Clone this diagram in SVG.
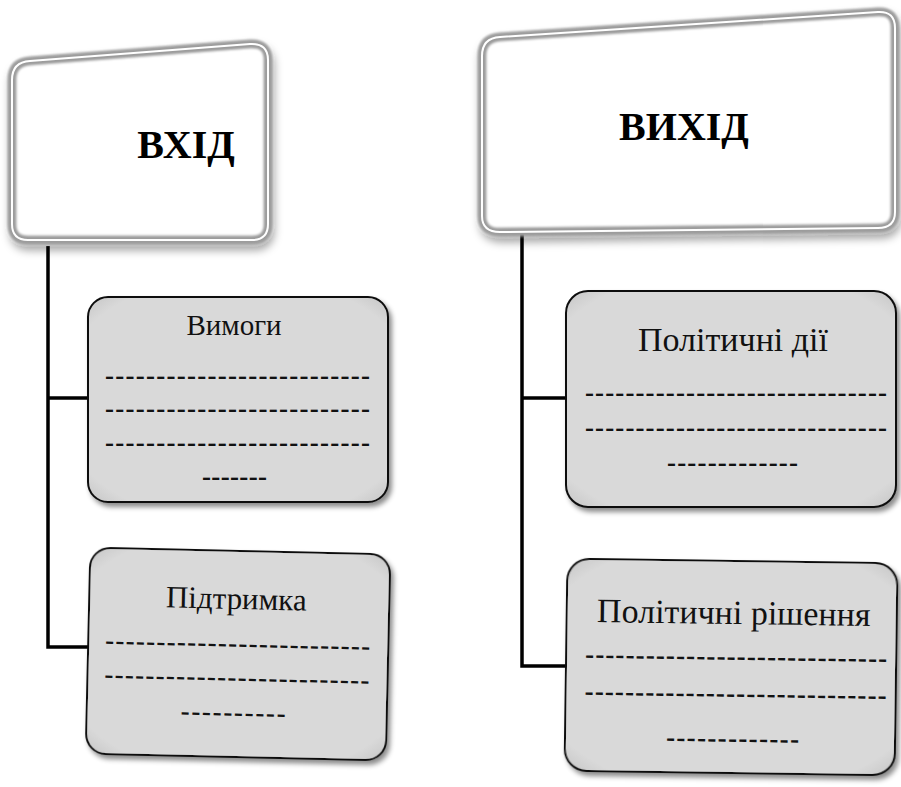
<svg xmlns="http://www.w3.org/2000/svg" width="901" height="787" viewBox="0 0 901 787">
<style>
.frame{fill:#ffffff;stroke:#9c9c9c;stroke-width:9;filter:url(#soft)}
.gap{fill:none;stroke:#ffffff;stroke-width:2}
.card{fill:url(#cardfill);stroke:#111111;stroke-width:2;filter:url(#shadow)}
.title{font-family:"Liberation Serif","Times New Roman",serif;font-weight:bold;font-size:40px;fill:#000;text-anchor:middle}
.label{font-family:"Liberation Serif","Times New Roman",serif;font-size:29px;fill:#111;text-anchor:middle}
.label2{font-family:"Liberation Serif","Times New Roman",serif;font-size:34px;fill:#111;text-anchor:middle}
.dash{font-family:"Liberation Serif","Times New Roman",serif;font-weight:bold;font-size:27px;fill:#111}
.conn{fill:none;stroke:#000;stroke-width:3.5}
</style>
<defs>
<filter id="soft" x="-10%" y="-10%" width="120%" height="130%">
<feGaussianBlur in="SourceAlpha" stdDeviation="4"/>
<feOffset dx="2" dy="6" result="b"/>
<feFlood flood-color="#000" flood-opacity="0.35"/>
<feComposite in2="b" operator="in" result="s"/>
<feGaussianBlur in="SourceGraphic" stdDeviation="0.8" result="g"/>
<feMerge><feMergeNode in="s"/><feMergeNode in="g"/></feMerge>
</filter>
<filter id="shadow" x="-10%" y="-10%" width="125%" height="125%">
<feGaussianBlur in="SourceAlpha" stdDeviation="2.5"/>
<feOffset dx="3" dy="4" result="b"/>
<feFlood flood-color="#000" flood-opacity="0.45"/>
<feComposite in2="b" operator="in" result="s"/>
<feMerge><feMergeNode in="s"/><feMergeNode in="SourceGraphic"/></feMerge>
</filter>
<radialGradient id="cardfill" cx="50%" cy="50%" r="72%">
<stop offset="0.85" stop-color="#d9d9d9"/>
<stop offset="1" stop-color="#c2c2c2"/>
</radialGradient>
</defs>

<g id="connectors">
<path class="conn" d="M48,246 V647 H88"/>
<path class="conn" d="M48,398 H88"/>
<path class="conn" d="M522,230 V666 H566"/>
<path class="conn" d="M522,398 H566"/>
</g>

<g id="vkhid">
<path class="frame" d="M12,80 Q12,62 30,61 L250,44 Q268,43 268,60 L268,224 Q268,240 252,240 L28,240 Q12,240 12,224 Z"/>
<path class="gap" d="M12,80 Q12,62 30,61 L250,44 Q268,43 268,60 L268,224 Q268,240 252,240 L28,240 Q12,240 12,224 Z"/>
<text class="title" x="186" y="158">ВХІД</text>
</g>

<g id="vykhid">
<path class="frame" d="M482,56 Q482,38 500,37 L878,12 Q895,11 895,28 L895,212 Q895,228 878,228 L500,232 Q482,232 482,216 Z"/>
<path class="gap" d="M482,56 Q482,38 500,37 L878,12 Q895,11 895,28 L895,212 Q895,228 878,228 L500,232 Q482,232 482,216 Z"/>
<text class="title" x="684" y="140">ВИХІД</text>
</g>

<g id="vymohy">
<rect class="card" x="88" y="297" width="300" height="205" rx="20"/>
<text class="label" x="234" y="335">Вимоги</text>
<text class="dash" x="105" y="384" textLength="265" lengthAdjust="spacing">--------------------------</text>
<text class="dash" x="105" y="417" textLength="265" lengthAdjust="spacing">--------------------------</text>
<text class="dash" x="105" y="451" textLength="265" lengthAdjust="spacing">--------------------------</text>
<text class="dash" x="202" y="485" textLength="65" lengthAdjust="spacing">-------</text>
</g>

<g id="pidtrymka" transform="rotate(1.3 238 656)">
<rect class="card" x="88" y="551" width="300" height="206" rx="20"/>
<text class="label" x="235" y="609" style="font-size:31px">Підтримка</text>
<text class="dash" x="105" y="652" textLength="265" lengthAdjust="spacing">--------------------------</text>
<text class="dash" x="105" y="686" textLength="265" lengthAdjust="spacing">--------------------------</text>
<text class="dash" x="182" y="721" textLength="105" lengthAdjust="spacing">----------</text>
</g>

<g id="politychni-dii">
<rect class="card" x="566" y="291" width="330" height="216" rx="22"/>
<text class="label2" x="733" y="351">Політичні  дії</text>
<text class="dash" x="585" y="401" textLength="302" lengthAdjust="spacing">------------------------------</text>
<text class="dash" x="585" y="436" textLength="302" lengthAdjust="spacing">------------------------------</text>
<text class="dash" x="667" y="471" textLength="131" lengthAdjust="spacing">-------------</text>
</g>

<g id="politychni-rishennia" transform="rotate(0.8 733 668)">
<rect class="card" x="566" y="561" width="330" height="212" rx="22"/>
<text class="label2" x="733" y="624">Політичні  рішення</text>
<text class="dash" x="585" y="665" textLength="302" lengthAdjust="spacing">------------------------------</text>
<text class="dash" x="585" y="702" textLength="302" lengthAdjust="spacing">------------------------------</text>
<text class="dash" x="667" y="747" textLength="133" lengthAdjust="spacing">-------------</text>
</g>
</svg>
